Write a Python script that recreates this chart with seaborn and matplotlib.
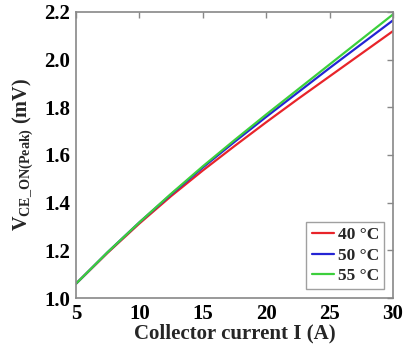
import numpy as np
import pandas as pd
import matplotlib
matplotlib.use("Agg")
import matplotlib.pyplot as plt
import seaborn as sns

current = [5, 7.5, 10, 12.5, 15, 17.5, 20, 22.5, 25, 27.5, 30]
v_40 = [1.06, 1.19, 1.3125, 1.4275, 1.535, 1.6375, 1.7375, 1.835, 1.93, 2.025, 2.12]
v_50 = [1.06, 1.1925, 1.3175, 1.435, 1.5475, 1.655, 1.76, 1.8625, 1.965, 2.065, 2.165]
v_55 = [1.06, 1.1925, 1.3175, 1.4375, 1.5525, 1.6625, 1.77, 1.875, 1.98, 2.085, 2.19]
labels = ["40 °C", "50 °C", "55 °C"]
colors = ["#e8242a", "#2424d4", "#3ccf3c"]

df = pd.DataFrame({
    "I": current * 3,
    "V": v_40 + v_50 + v_55,
    "T": [labels[0]] * len(current) + [labels[1]] * len(current) + [labels[2]] * len(current),
})

sns.set_style("white")
plt.rcParams["font.family"] = ["Liberation Serif", "DejaVu Serif"]
plt.rcParams["font.weight"] = "bold"
plt.rcParams["mathtext.fontset"] = "custom"
plt.rcParams["mathtext.rm"] = "Liberation Serif:bold"

fig = plt.figure(figsize=(4.05, 3.47), dpi=100)
ax = fig.add_axes([76 / 405, 1 - 298 / 347, (393 - 76) / 405, (298 - 12) / 347])

sns.lineplot(data=df, x="I", y="V", hue="T", palette=colors, ax=ax, linewidth=1.6)

ax.set_xlim(5, 30)
ax.set_ylim(1.0, 2.2)
ax.set_xticks([5, 10, 15, 20, 25, 30])
ax.set_yticks([1.0, 1.2, 1.4, 1.6, 1.8, 2.0, 2.2])
ax.set_yticklabels(["1.0", "1.2", "1.4", "1.6", "1.8", "2.0", "2.2"])
ax.tick_params(direction="in", length=4, width=1, color="#888888", top=True, right=True,
               labelsize=15, labelcolor="black", pad=4)
for lab in ax.get_xticklabels() + ax.get_yticklabels():
    lab.set_fontweight("bold")
for s in ax.spines.values():
    s.set_color("#888888")
    s.set_linewidth(1.2)

ax.set_xlabel("Collector current I (A)", fontsize=15, fontweight="bold", labelpad=0)
ax.set_ylabel(r"V$_{\mathregular{CE\_ON(Peak)}}$ (mV)", fontsize=14.5, fontweight="bold", labelpad=6)

leg = ax.legend(loc="lower right", frameon=True, fancybox=False, fontsize=12.5,
                handlelength=1.3, handletextpad=0.2, borderpad=0.3, labelspacing=0.25,
                borderaxespad=0.5)
leg.get_frame().set_edgecolor("#888888")
leg.get_frame().set_linewidth(1.0)
for t in leg.get_texts():
    t.set_fontweight("bold")

fig.savefig("out.png", dpi=100)
